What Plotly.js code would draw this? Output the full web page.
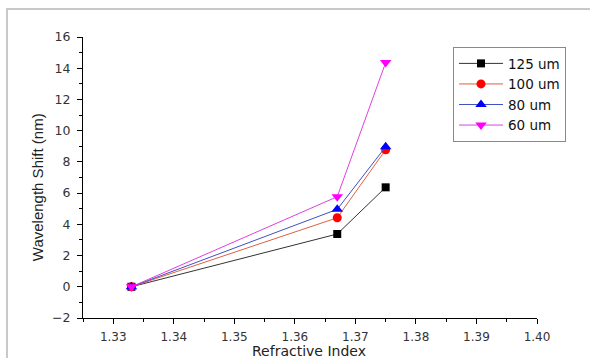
<!DOCTYPE html>
<html>
<head>
<meta charset="utf-8">
<script src="https://cdn.plot.ly/plotly-3.0.1.min.js"></script>
<style>
html,body{margin:0;padding:0;background:#fff;}
#frame{position:absolute;left:6px;top:8px;width:600px;height:400px;border-left:2px solid #c8c8c8;border-top:2px solid #c8c8c8;pointer-events:none;z-index:5;}
#chart{width:590px;height:358px;}
</style>
</head>
<body>
<div id="frame"></div>
<div id="chart"></div>
<script>
const refractiveIndex = [1.333, 1.367, 1.375];
const shift125 = [0, 3.38, 6.37];
const shift100 = [0, 4.42, 8.78];
const shift80 = [0, 4.96, 8.97];
const shift60 = [0, 5.77, 14.36];
const seriesNames = ['125 um', '100 um', '80 um', '60 um'];
const xTitle = 'Refractive Index';
const yTitle = 'Wavelength Shift (nm)';

function tr(y, name, lineColor, markerColor, symbol, size) {
  return {
    x: refractiveIndex, y: y, name: name, type: 'scatter', mode: 'lines+markers',
    line: {color: lineColor, width: 1},
    marker: {color: markerColor, symbol: symbol, size: size, line: {width: 0}}
  };
}
const data = [
  tr(shift125, seriesNames[0], '#333333', '#000000', 'square', 8),
  tr(shift100, seriesNames[1], '#e06040', '#ff0000', 'circle', 9),
  tr(shift80, seriesNames[2], '#4050c0', '#0000ff', 'triangle-up', 10),
  tr(shift60, seriesNames[3], '#e040e0', '#ff00ff', 'triangle-down', 10)
];
const layout = {
  width: 590, height: 358,
  margin: {l: 83, r: 53, t: 37, b: 40},
  paper_bgcolor: '#fff', plot_bgcolor: '#fff',
  font: {family: 'DejaVu Sans, sans-serif', color: '#222'},
  showlegend: true,
  legend: {x: 0.815, y: 0.964, xanchor: 'left', yanchor: 'top',
    bordercolor: '#888', borderwidth: 1, bgcolor: '#fff', itemwidth: 44,
    font: {size: 13.5, color: '#111'}, tracegroupgap: 0},
  xaxis: {
    range: [1.325, 1.40], dtick: 0.01, tick0: 1.33, tickformat: '.2f',
    showgrid: false, zeroline: false, showline: true, linecolor: '#000', linewidth: 1,
    ticks: 'outside', ticklen: 5, tickcolor: '#000', ticklabelstandoff: 3,
    minor: {dtick: 0.005, tick0: 1.325, ticks: 'outside', ticklen: 3, tickcolor: '#000', showgrid: false},
    tickfont: {size: 12, color: '#333'}
  },
  yaxis: {
    range: [-2, 16], dtick: 2, tick0: 0,
    showgrid: false, zeroline: false, showline: true, linecolor: '#000', linewidth: 1,
    ticks: 'outside', ticklen: 5, tickcolor: '#000', ticklabelstandoff: 4,
    minor: {dtick: 1, ticks: 'outside', ticklen: 3, tickcolor: '#000', showgrid: false},
    tickfont: {size: 12.5, color: '#333'}
  },
  annotations: [
    {text: xTitle, xref: 'paper', yref: 'paper', x: 0.498, y: -0.118, xanchor: 'center', yanchor: 'middle',
     showarrow: false, font: {size: 14, color: '#222'}},
    {text: yTitle, xref: 'paper', yref: 'paper', x: -0.101, y: 0.466, xanchor: 'center', yanchor: 'middle',
     textangle: -90, showarrow: false, font: {family: 'Liberation Sans, Arial, sans-serif', size: 15, color: '#222'}}
  ]
};
Plotly.newPlot('chart', data, layout, {displayModeBar: false, staticPlot: true});
</script>
</body>
</html>
